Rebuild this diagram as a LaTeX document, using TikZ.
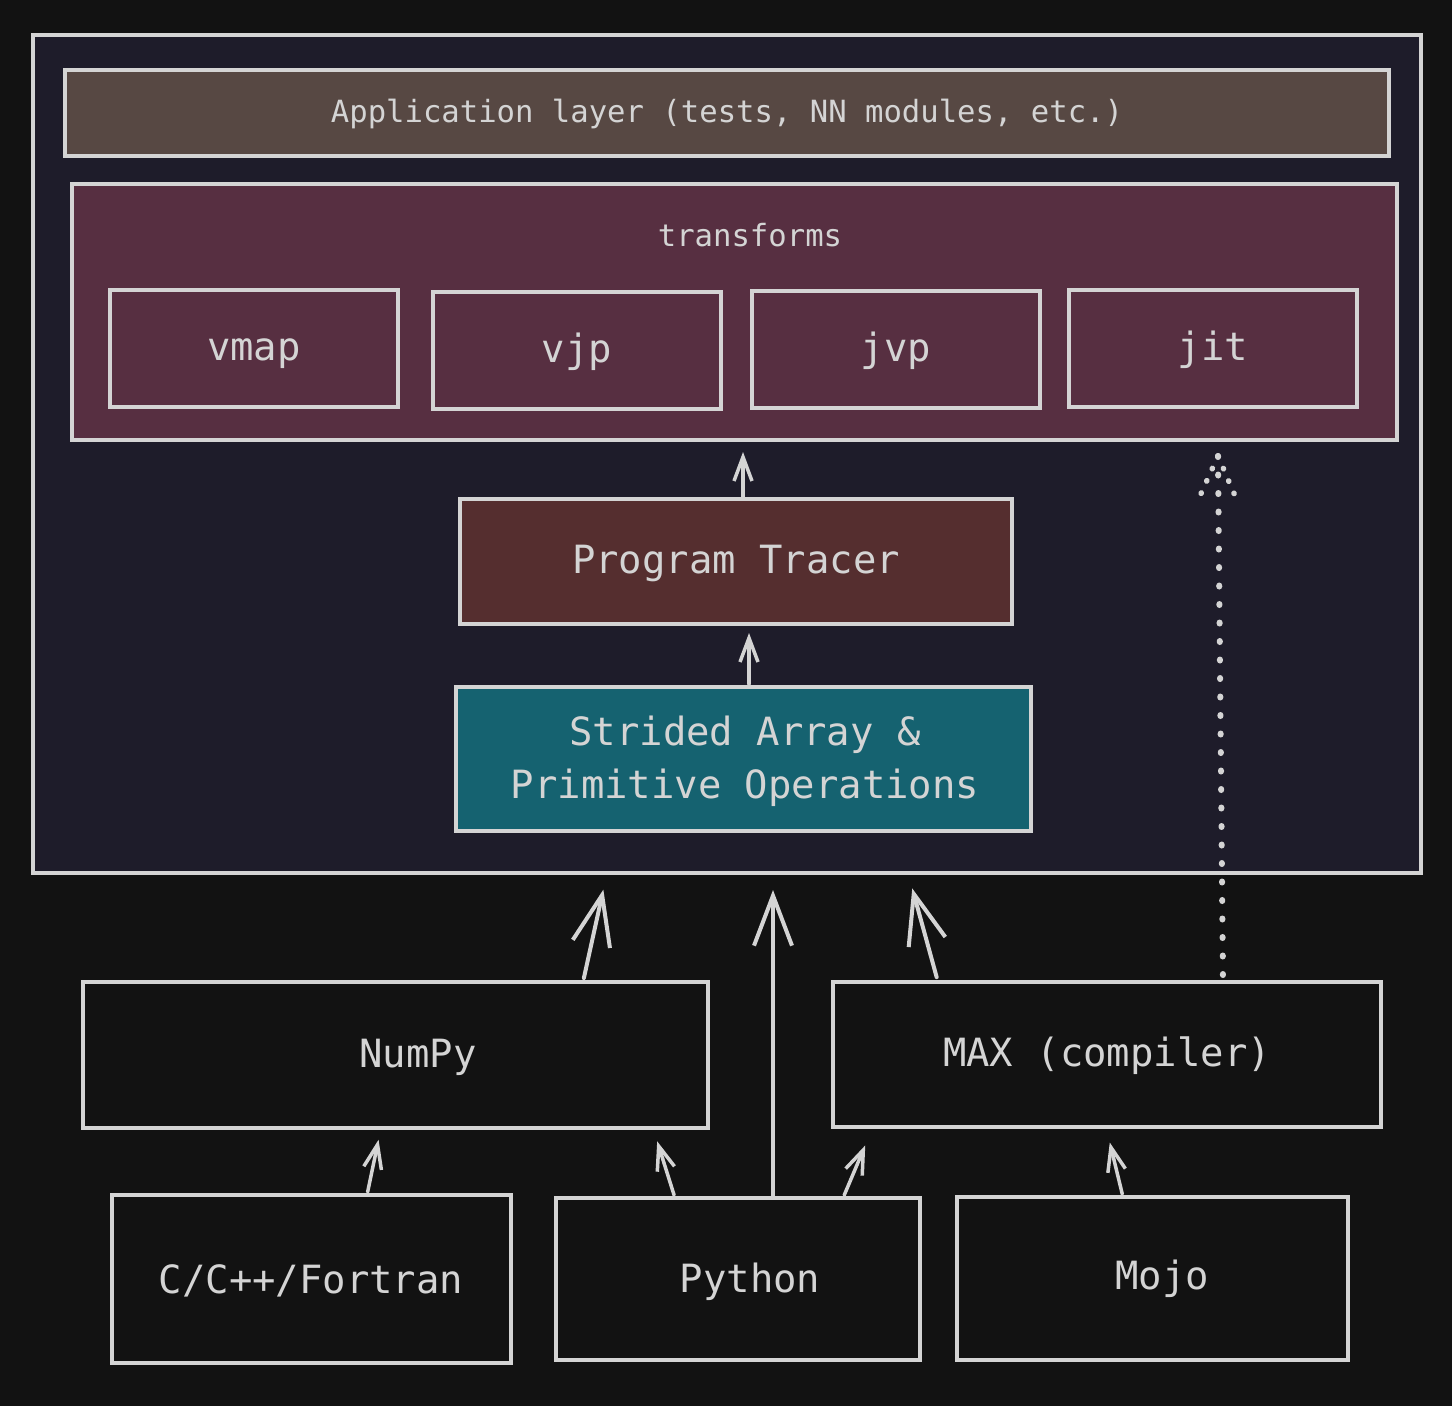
\documentclass[tikz,border=0pt]{standalone}
\usepackage{fontspec}
\setmonofont{DejaVu Sans Mono}
\usetikzlibrary{arrows.meta}
\definecolor{bg}{HTML}{121212}
\definecolor{panel}{HTML}{1E1C2A}
\definecolor{appc}{HTML}{574843}
\definecolor{transc}{HTML}{572F41}
\definecolor{tracerc}{HTML}{552E2F}
\definecolor{stridc}{HTML}{156270}
\definecolor{ink}{HTML}{D4D4D4}
\begin{document}
\begin{tikzpicture}[x=1pt,y=-1pt,
  box/.style={draw=ink, line width=3.5pt, inner sep=0pt, outer sep=0pt},
  smalltxt/.style={text=ink, anchor=base, font=\ttfamily\fontsize{30.6}{36}\selectfont},
  bigtxt/.style={text=ink, anchor=base, font=\ttfamily\fontsize{38.9}{53}\selectfont, align=center},
  bigarr/.style={draw=ink, line width=4pt, line cap=round, -{Straight Barb[length=50pt,width=38pt,line width=4pt]}},
  smallarr/.style={draw=ink, line width=3.5pt, line cap=round, -{Straight Barb[length=24pt,width=18pt,line width=3.5pt]}},
  dotline/.style={draw=ink, line width=6pt, line cap=round, dash pattern=on 1pt off 17.5pt},
  dothead/.style={draw=ink, line width=5.5pt, line cap=round, dash pattern=on 0.5pt off 13pt}
]
\useasboundingbox (0,0) rectangle (1452,1406);
\fill[bg] (0,0) rectangle (1452,1406);

% outer panel
\node[box, fill=panel, minimum width=1388pt, minimum height=838pt] (outer) at (727,454) {};

% application layer
\node[box, fill=appc, minimum width=1324pt, minimum height=86pt] (app) at (727,113) {};
\node[smalltxt] (appT) at (727,122) {Application layer (tests, NN modules, etc.)};

% transforms
\node[box, fill=transc, minimum width=1325pt, minimum height=256pt] (trans) at (734.5,312) {};
\node[smalltxt] (transT) at (750,246) {transforms};
\node[box, fill=transc, minimum width=288pt, minimum height=117pt] (vmap) at (254,348.5) {};
\node[bigtxt] (vmapT) at (254,360) {vmap};
\node[box, fill=transc, minimum width=288pt, minimum height=117pt] (vjp) at (577,350.5) {};
\node[bigtxt] (vjpT) at (577,362) {vjp};
\node[box, fill=transc, minimum width=288pt, minimum height=117pt] (jvp) at (896,349.5) {};
\node[bigtxt] (jvpT) at (896,361) {jvp};
\node[box, fill=transc, minimum width=288pt, minimum height=117pt] (jit) at (1213,348.5) {};
\node[bigtxt] (jitT) at (1213,360) {jit};

% program tracer
\node[box, fill=tracerc, minimum width=552pt, minimum height=125pt] (tracer) at (736,561.5) {};
\node[bigtxt] (tracerT) at (736,573) {Program Tracer};

% strided array
\node[box, fill=stridc, minimum width=575pt, minimum height=144pt] (strided) at (743.5,759) {};
\node[bigtxt, anchor=center] (stridedT) at (745,761) {Strided Array \&\\Primitive Operations};

% lower boxes
\node[box, fill=bg, minimum width=625pt, minimum height=146pt] (numpy) at (395.5,1055) {};
\node[bigtxt] (numpyT) at (418,1067) {NumPy};
\node[box, fill=bg, minimum width=548pt, minimum height=145pt] (max) at (1107,1054.5) {};
\node[bigtxt] (maxT) at (1107,1066) {MAX (compiler)};
\node[box, fill=bg, minimum width=399pt, minimum height=168pt] (cpp) at (311.5,1279) {};
\node[bigtxt] (cppT) at (311,1293) {C/C++/Fortran};
\node[box, fill=bg, minimum width=364pt, minimum height=162pt] (python) at (738,1279) {};
\node[bigtxt] (pythonT) at (750,1292) {Python};
\node[box, fill=bg, minimum width=391pt, minimum height=163pt] (mojo) at (1152.5,1278.5) {};
\node[bigtxt] (mojoT) at (1162,1289) {Mojo};

% arrows inside panel
\draw[smallarr, shorten >=12pt, shorten <=2pt] ([xshift=7pt]tracer.north) -- ([xshift=7pt]tracer.north |- trans.south);
\draw[smallarr, shorten >=9pt, shorten <=3pt] ([xshift=5.5pt]strided.north) -- ([xshift=5.5pt]strided.north |- tracer.south);

% arrows into panel
\draw[bigarr, shorten >=17pt, shorten <=4pt] ([xshift=187.5pt]numpy.north) -- ([xshift=-120pt]outer.south);
\draw[bigarr, shorten >=17pt, shorten <=2pt] ([xshift=35pt]python.north) -- ([xshift=46pt]outer.south);
\draw[bigarr, shorten >=16pt, shorten <=5pt] ([xshift=-169pt]max.north) -- ([xshift=181pt]outer.south);

% dotted arrow to jit
\coordinate (jitTip) at ([xshift=483.5pt,yshift=-16pt]trans.south);
\draw[dotline, shorten <=7pt] ([xshift=116pt]max.north) -- (jitTip);
\draw[dothead] (jitTip) -- ++(-19,42);
\draw[dothead] (jitTip) -- ++(18,42);

% arrows between lower boxes
\draw[smallarr, shorten >=12pt, shorten <=3pt] ([xshift=55.5pt]cpp.north) -- ([xshift=-14.5pt]numpy.south);
\draw[smallarr, shorten >=14pt, shorten <=3pt] ([xshift=-63pt]python.north) -- ([xshift=257.5pt]numpy.south);
\draw[smallarr, shorten >=20pt, shorten <=3pt] ([xshift=105pt]python.north) -- ([xshift=-234pt]max.south);
\draw[smallarr, shorten >=16pt, shorten <=3pt] ([xshift=-29.5pt]mojo.north) -- ([xshift=-1pt]max.south);
\end{tikzpicture}
\end{document}
